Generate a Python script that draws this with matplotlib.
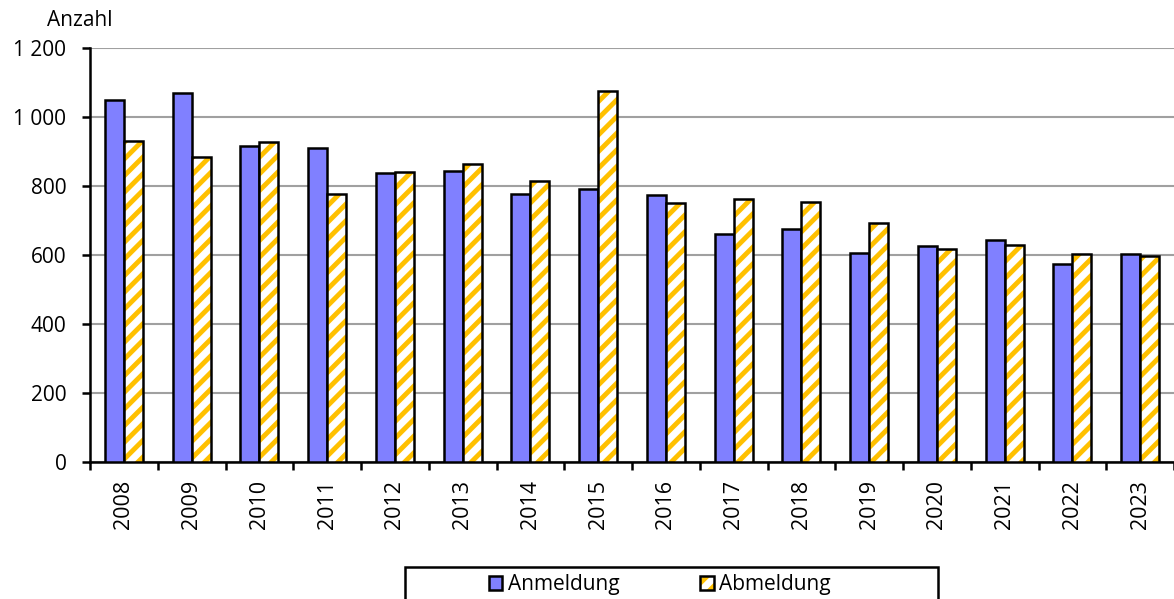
import matplotlib
matplotlib.use('Agg')
import matplotlib.pyplot as plt
from matplotlib.patches import Patch, Rectangle
from matplotlib.legend_handler import HandlerTuple
import numpy as np

plt.rcParams['font.family'] = ['Open Sans', 'DejaVu Sans']
plt.rcParams['hatch.linewidth'] = 3.5

years = ['2008', '2009', '2010', '2011', '2012', '2013', '2014', '2015',
         '2016', '2017', '2018', '2019', '2020', '2021', '2022', '2023']
anmeldung = [1049, 1070, 916, 910, 838, 843, 777, 791, 774, 661, 675, 606, 626, 643, 574, 603]
abmeldung = [930, 884, 928, 777, 841, 864, 814, 1075, 751, 762, 754, 693, 617, 629, 603, 597]

BLUE = '#8080FF'; GOLD = '#FFC000'; GRID = '#A0A0A0'

fig = plt.figure(figsize=(11.74, 5.99), dpi=100)
ax = fig.add_axes([0.0767, 0.229, 0.9233, 0.691])

x = np.arange(len(years))
w = 0.28
ax.bar(x - w/2, anmeldung, w, color=BLUE, edgecolor='black', lw=1.8, zorder=3)
# hatched bars: gold hatch first, black outline on top
ax.bar(x + w/2, abmeldung, w, color='white', edgecolor=GOLD, hatch='//', lw=0, zorder=3)
ax.bar(x + w/2, abmeldung, w, fill=False, edgecolor='black', lw=1.8, zorder=4)

ax.set_xlim(-0.5, len(years) - 0.5)
ax.set_ylim(0, 1200)
ax.set_yticks(range(0, 1201, 200))
ax.set_yticklabels(['0', '200', '400', '600', '800', '1 000', '1 200'])
ax.yaxis.grid(True, color=GRID, lw=1.5, zorder=0)
ax.set_axisbelow(True)

ax.set_xticks(x)
ax.set_xticklabels(years, rotation=90)
ax.set_xticks(np.arange(-0.5, len(years)), minor=True)
ax.tick_params(axis='x', which='major', length=0, pad=13, labelsize=15.5)
ax.tick_params(axis='x', which='minor', length=6, width=1.8, direction='out')
ax.tick_params(axis='y', length=6, width=1.8, direction='out', labelsize=15, pad=11)

for s in ['top', 'right']:
    ax.spines[s].set_visible(False)
for s in ['left', 'bottom']:
    ax.spines[s].set_linewidth(1.8)

fig.text(0.068, 0.965, 'Anzahl', ha='center', va='center', fontsize=15)

# legend: frameless, with a separate box running off the bottom edge
fig.patches.append(Rectangle((0.345, -0.02), 0.454, 0.0734, transform=fig.transFigure,
                             fill=False, edgecolor='black', lw=1.8))
h_anm = Patch(facecolor=BLUE, edgecolor='black', lw=1.8)
h_abm = (Patch(facecolor='white', edgecolor=GOLD, hatch='//', lw=0),
         Patch(fill=False, edgecolor='black', lw=1.8))
fig.legend([h_anm, h_abm], ['Anmeldung', 'Abmeldung'],
           handler_map={tuple: HandlerTuple(ndivide=1, pad=0)},
           loc='center', bbox_to_anchor=(0.562, 0.024), ncol=2,
           fontsize=15, frameon=False,
           handlelength=0.65, handleheight=0.65, handletextpad=0.25, columnspacing=3.9,
           borderpad=0, borderaxespad=0)

plt.savefig('out.png', dpi=100)
